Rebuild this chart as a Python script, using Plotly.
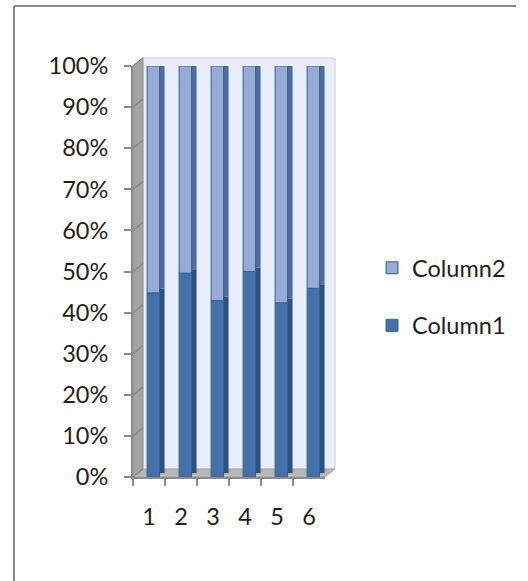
import plotly.graph_objects as go

categories = ["1", "2", "3", "4", "5", "6"]
column1 = [0.448, 0.496, 0.429, 0.500, 0.424, 0.459]
column2 = [1 - v for v in column1]
y_ticks = [0, 0.1, 0.2, 0.3, 0.4, 0.5, 0.6, 0.7, 0.8, 0.9, 1.0]

W, H = 528, 581
FX0, FX1, FY0, FY1 = 133, 325, 477, 66   # front plane (pixels)
DX, DY = 10, 8                           # depth of the 3D box (pixels)

def px(x):
    return x / W

def py(y):
    return 1 - y / H

FACE_OFF, FACE_W = -0.06, 0.39
SIDE_DX = 5 / ((FX1 - FX0) / 6)
SIDE_DY = 4 / (FY0 - FY1)

C1_FACE, C1_SIDE = "#4471ab", "#2c5284"
C2_FACE, C2_SIDE = "#95aad5", "#4a6ea3"
EDGE = "#36628f"

fig = go.Figure()

bases1 = [0] * len(column1)
bases2 = column1

fig.add_trace(go.Bar(x=categories, y=column1, base=[b + SIDE_DY for b in bases1],
                     offset=FACE_OFF + SIDE_DX, width=FACE_W, marker=dict(color=C1_SIDE, line=dict(width=0)),
                     showlegend=False, hoverinfo="skip", xaxis="x2", yaxis="y2"))
fig.add_trace(go.Bar(x=categories, y=column2, base=[b + SIDE_DY for b in bases2],
                     offset=FACE_OFF + SIDE_DX, width=FACE_W, marker=dict(color=C2_SIDE, line=dict(width=0)),
                     showlegend=False, hoverinfo="skip", xaxis="x2", yaxis="y2"))
fig.add_trace(go.Bar(x=categories, y=column1, base=bases1, name="Column1",
                     offset=FACE_OFF, width=FACE_W, legendrank=2, legendgroup="c1",
                     marker=dict(color=C1_FACE, line=dict(color=EDGE, width=1)),
                     xaxis="x2", yaxis="y2"))
fig.add_trace(go.Bar(x=categories, y=column2, base=bases2, name="Column2",
                     offset=FACE_OFF, width=FACE_W, legendrank=1, legendgroup="c2",
                     marker=dict(color=C2_FACE, line=dict(color=EDGE, width=1)),
                     xaxis="x2", yaxis="y2"))

GRID = "#8c8c8c"
FONT = dict(family="Lato", size=23.5, color="#1e1e1e")

shapes = []
# outer chart frame: left and top edges
shapes.append(dict(type="line", xref="paper", yref="paper",
                   x0=px(14), y0=py(H), x1=px(14), y1=py(6),
                   line=dict(color="#8a8a8a", width=2), layer="below"))
shapes.append(dict(type="line", xref="paper", yref="paper",
                   x0=px(14), y0=py(6), x1=px(W - 12), y1=py(6),
                   line=dict(color="#8a8a8a", width=2), layer="below"))
# back wall
shapes.append(dict(type="rect", xref="paper", yref="paper",
                   x0=px(FX0 + DX), x1=px(FX1 + DX), y0=py(FY0 - DY), y1=py(FY1 - DY),
                   fillcolor="#e9eef8", line=dict(color="#c8cdd6", width=1), layer="below"))
# left side wall
shapes.append(dict(type="path", xref="paper", yref="paper",
                   path=(f"M {px(FX0)},{py(FY1)} L {px(FX0 + DX)},{py(FY1 - DY)} "
                         f"L {px(FX0 + DX)},{py(FY0 - DY)} L {px(FX0)},{py(FY0)} Z"),
                   fillcolor="#a3a3a3", line=dict(color="#969696", width=1), layer="below"))
# floor
shapes.append(dict(type="path", xref="paper", yref="paper",
                   path=(f"M {px(FX0)},{py(FY0)} L {px(FX0 + DX)},{py(FY0 - DY)} "
                         f"L {px(FX1 + DX)},{py(FY0 - DY)} L {px(FX1)},{py(FY0)} Z"),
                   fillcolor="#b8b8b8", line=dict(color="#a8a8a8", width=1), layer="below"))
# slanted gridlines on the side wall
for v in y_ticks:
    yf = FY0 - v * (FY0 - FY1)
    shapes.append(dict(type="line", xref="paper", yref="paper",
                       x0=px(FX0), y0=py(yf), x1=px(FX0 + DX), y1=py(yf - DY),
                       line=dict(color="#8a8a8a", width=1.5), layer="below"))

fig.update_layout(
    width=W, height=H,
    margin=dict(l=0, r=0, t=0, b=0, pad=0, autoexpand=False),
    paper_bgcolor="white", plot_bgcolor="rgba(0,0,0,0)",
    barmode="overlay",
    font=FONT,
    shapes=shapes,
    # back wall axes (gridlines only)
    xaxis=dict(domain=[px(FX0 + DX), px(FX1 + DX)], anchor="y", type="category",
               categoryorder="array", categoryarray=categories, automargin=False,
               showgrid=False, showticklabels=False, ticks="", showline=False, zeroline=False),
    yaxis=dict(domain=[py(FY0 - DY), py(FY1 - DY)], anchor="x", range=[0, 1], automargin=False,
               tickvals=y_ticks, showgrid=True, gridcolor=GRID, gridwidth=2,
               showticklabels=False, ticks="", showline=False, zeroline=False),
    # front plane axes (bars, ticks, labels)
    xaxis2=dict(domain=[px(FX0), px(FX1)], anchor="y2", type="category", automargin=False,
                categoryorder="array", categoryarray=categories, range=[-0.5, 5.5],
                tickson="boundaries", ticks="outside", ticklen=7, tickwidth=2, tickcolor=GRID,
                showline=True, linecolor=GRID, linewidth=2, showgrid=False, zeroline=False,
                ticklabelstandoff=18, tickfont=FONT),
    yaxis2=dict(domain=[py(FY0), py(FY1)], anchor="x2", range=[0, 1], automargin=False,
                tickvals=y_ticks, tickformat=".0%", ticks="outside", ticklen=7, tickwidth=2,
                tickcolor=GRID, showline=True, linecolor=GRID, linewidth=2,
                showgrid=False, zeroline=False, ticklabelstandoff=11, tickfont=FONT),
    legend=dict(x=px(372), y=py(297), xanchor="left", yanchor="middle",
                font=FONT, tracegroupgap=24, bgcolor="rgba(0,0,0,0)"),
    showlegend=True,
)

fig.write_html("out.html",
               config={"displayModeBar": False},
               post_script=("document.documentElement.style.overflow='hidden';"
                            "document.body.style.margin='0';document.body.style.overflow='hidden';"))
